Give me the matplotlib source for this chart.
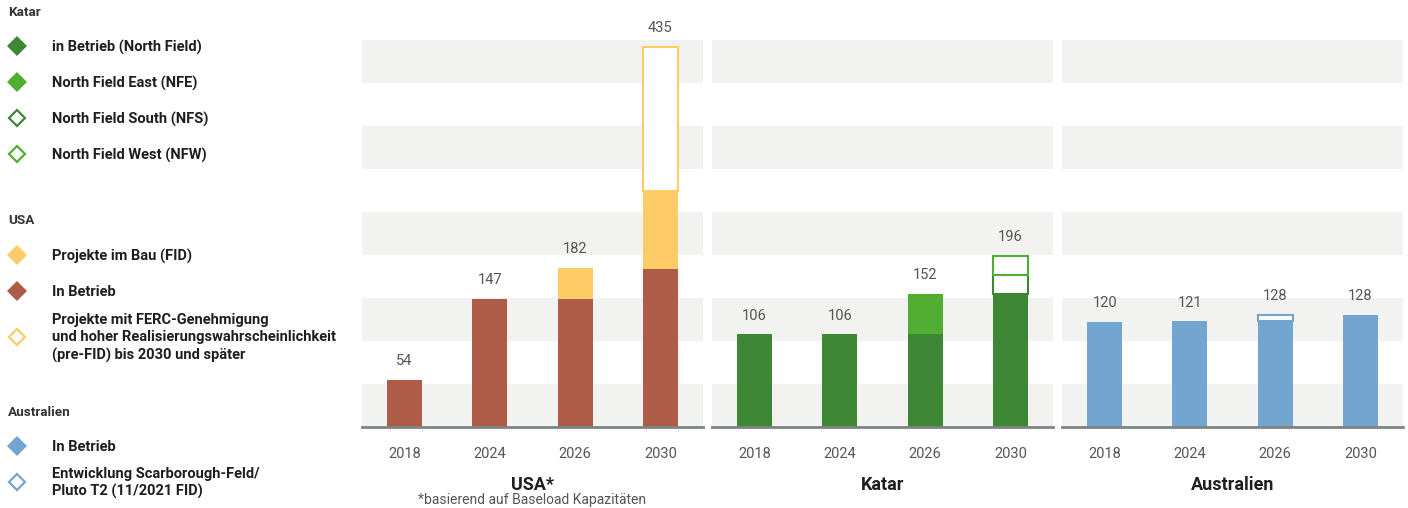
import matplotlib
matplotlib.use("Agg")
from matplotlib import pyplot as plt

plt.rcParams['font.family'] = ['Roboto', 'DejaVu Sans']

W, H = 1408, 508

years = ['2018', '2024', '2026', '2030']

# USA (Mtpa)
usa_betrieb = [54, 147, 147, 181]
usa_fid = [0, 0, 35, 89]
usa_prefid = [0, 0, 0, 165]
usa_totals = [54, 147, 182, 435]

# Katar
katar_nf = [106, 106, 106, 152]
katar_nfe = [0, 0, 46, 0]
katar_nfs = [0, 0, 0, 22]
katar_nfw = [0, 0, 0, 22]
katar_totals = [106, 106, 152, 196]

# Australien
aus_betrieb = [120, 121, 121, 128]
aus_scarborough = [0, 0, 7, 0]
aus_totals = [120, 121, 128, 128]

BROWN = '#AE5B47'
YELLOW = '#FDCC66'
DKGREEN = '#3D8735'
LTGREEN = '#52AE32'
BLUE = '#72A5D0'
BAND = '#F2F2F0'
BASE = '#7C8484'
TXT = '#555555'
DARK = '#1E1E1E'

fig = plt.figure(figsize=(W / 100, H / 100), dpi=100)


def px_axes(x0, y0, x1, y1):
    return fig.add_axes([x0 / W, 1 - y1 / H, (x1 - x0) / W, (y1 - y0) / H])


YMAX = 443
BANDW = YMAX / 9


def panel(x0, x1, title, sub=None):
    ax = px_axes(x0, 40, x1, 427)
    ax.set_xlim(-0.5, 3.5)
    ax.set_ylim(0, YMAX)
    for i in range(0, 9, 2):
        ax.axhspan(i * BANDW, (i + 1) * BANDW, color=BAND, lw=0, zorder=0)
    for s in ax.spines.values():
        s.set_visible(False)
    ax.axhline(0, color=BASE, lw=2, zorder=5, clip_on=False)
    ax.set_yticks([])
    ax.set_xticks(range(len(years)))
    ax.set_xticklabels(years, fontsize=10.5, color=TXT)
    ax.tick_params(axis='x', length=0, pad=14.5)
    cx = (x0 + x1) / 2
    fig.text(cx / W, 1 - 485 / H, title, ha='center', va='center',
             fontsize=13, fontweight='bold', color=DARK)
    if sub:
        fig.text(cx / W, 1 - 500 / H, sub, ha='center', va='center',
                 fontsize=10, color=TXT)
    return ax


def labels(ax, totals):
    for i, v in enumerate(totals):
        ax.annotate(str(v), (i, v), xytext=(0, 13.5), textcoords='offset points',
                    ha='center', va='center', fontsize=10.5, color=TXT,
                    annotation_clip=False)


bw = 0.41
x = range(len(years))

# USA
ax1 = panel(362, 703, 'USA*', '*basierend auf Baseload Kapazitäten')
ax1.bar(x, usa_betrieb, bw, color=BROWN, zorder=2)
ax1.bar(x, usa_fid, bw, bottom=usa_betrieb, color=YELLOW, zorder=2)
b = [a + c for a, c in zip(usa_betrieb, usa_fid)]
for i, v in enumerate(usa_prefid):
    if v:
        ax1.bar(i, v, bw, bottom=b[i], facecolor='white', edgecolor=YELLOW,
                lw=1.5, zorder=2)
labels(ax1, usa_totals)

# Katar
ax2 = panel(712, 1053, 'Katar')
ax2.bar(x, katar_nf, bw, color=DKGREEN, zorder=2)
ax2.bar(x, katar_nfe, bw, bottom=katar_nf, color=LTGREEN, zorder=2)
b = [a + c for a, c in zip(katar_nf, katar_nfe)]
for i, v in enumerate(katar_nfs):
    if v:
        ax2.bar(i, v, bw, bottom=b[i], facecolor='white', edgecolor=DKGREEN,
                lw=1.5, zorder=2)
b = [a + c for a, c in zip(b, katar_nfs)]
for i, v in enumerate(katar_nfw):
    if v:
        ax2.bar(i, v, bw, bottom=b[i], facecolor='white', edgecolor=LTGREEN,
                lw=1.5, zorder=2)
labels(ax2, katar_totals)

# Australien
ax3 = panel(1062, 1403, 'Australien')
ax3.bar(x, aus_betrieb, bw, color=BLUE, zorder=2)
for i, v in enumerate(aus_scarborough):
    if v:
        ax3.bar(i, v, bw, bottom=aus_betrieb[i], facecolor='white',
                edgecolor=BLUE, lw=1.5, zorder=2)
labels(ax3, aus_totals)

# Legend on the left
lg = px_axes(0, 0, 355, H)
lg.set_xlim(0, 355)
lg.set_ylim(H, 0)
lg.axis('off')

heads = [('Katar', 12), ('USA', 220), ('Australien', 412)]
for t, y in heads:
    lg.text(8, y, t, fontsize=9.7, fontweight='bold', color='#333333', va='center')

items = [
    (46, DKGREEN, True, 'in Betrieb (North Field)'),
    (82, LTGREEN, True, 'North Field East (NFE)'),
    (118, DKGREEN, False, 'North Field South (NFS)'),
    (154, LTGREEN, False, 'North Field West (NFW)'),
    (255, YELLOW, True, 'Projekte im Bau (FID)'),
    (291, BROWN, True, 'In Betrieb'),
    (337, YELLOW, False, 'Projekte mit FERC-Genehmigung\nund hoher Realisierungswahrscheinlichkeit\n(pre-FID) bis 2030 und später'),
    (446, BLUE, True, 'In Betrieb'),
    (482, BLUE, False, 'Entwicklung Scarborough-Feld/\nPluto T2 (11/2021 FID)'),
]
for y, c, filled, t in items:
    if filled:
        lg.plot([17], [y], marker='D', markersize=10, markerfacecolor=c,
                markeredgewidth=0, linestyle='none')
    else:
        lg.plot([17], [y], marker='D', markersize=8.5, markerfacecolor='white',
                markeredgecolor=c, markeredgewidth=1.6, linestyle='none')
    lg.text(52, y + 1, t, fontsize=10.5, fontweight='bold', color=DARK, va='center',
            linespacing=1.33)

fig.savefig('out.png', dpi=100)
